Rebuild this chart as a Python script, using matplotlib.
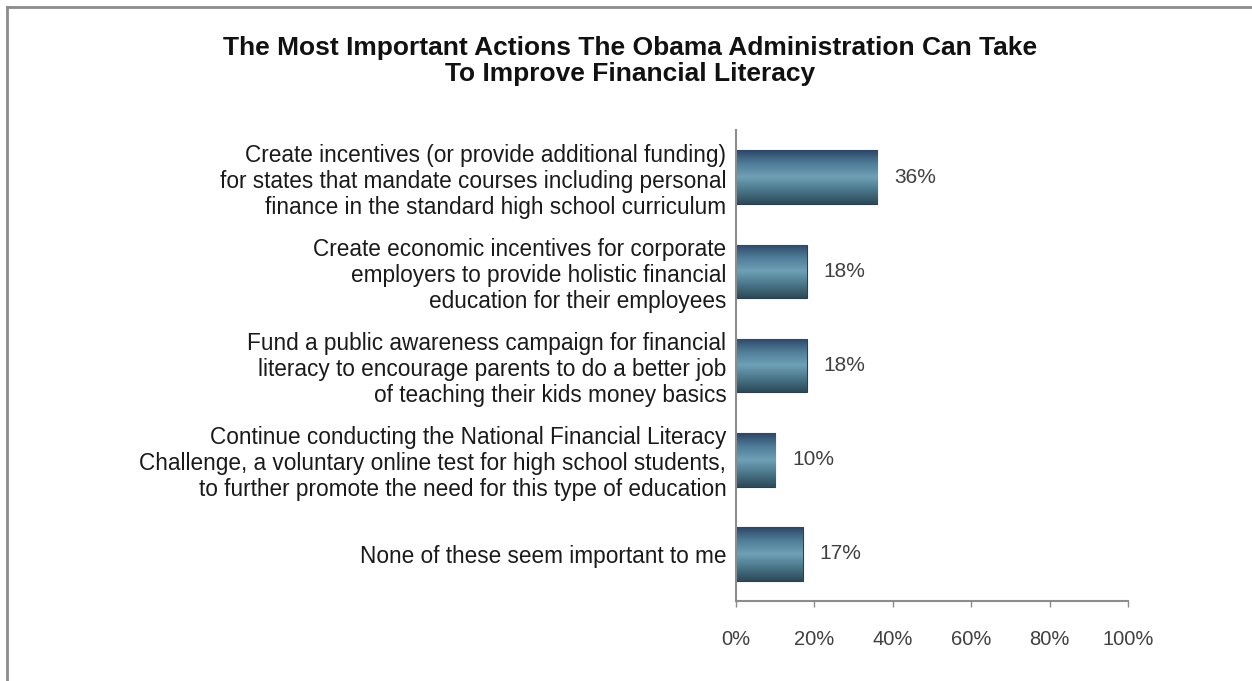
import matplotlib.pyplot as plt
import numpy as np
from matplotlib.colors import LinearSegmentedColormap
from matplotlib.lines import Line2D

plt.rcParams.update({
    "font.family": ["Liberation Sans", "DejaVu Sans"],
})

# ── data ───────────────────────────────────────────────────────────────────
actions = [
    "Create incentives (or provide additional funding)\n"
    "for states that mandate courses including personal\n"
    "finance in the standard high school curriculum",
    "Create economic incentives for corporate\n"
    "employers to provide holistic financial\n"
    "education for their employees",
    "Fund a public awareness campaign for financial\n"
    "literacy to encourage parents to do a better job\n"
    "of teaching their kids money basics",
    "Continue conducting the National Financial Literacy\n"
    "Challenge, a voluntary online test for high school students,\n"
    "to further promote the need for this type of education",
    "None of these seem important to me",
]
shares = [36, 18, 18, 10, 17]
xticks = [0, 20, 40, 60, 80, 100]
title = ("The Most Important Actions The Obama Administration Can Take\n"
         "To Improve Financial Literacy")

# ── figure ─────────────────────────────────────────────────────────────────
fig = plt.figure(figsize=(12.52, 6.81), dpi=100)
ax = fig.add_axes([0.5879, 0.1175, 0.3131, 0.6915])

# frame lines along top and left of the canvas
fig.add_artist(Line2D([7 / 1252, 1], [1 - 7 / 681] * 2, transform=fig.transFigure,
                      color="#8c8c8c", lw=2))
fig.add_artist(Line2D([7 / 1252] * 2, [0, 1 - 7 / 681], transform=fig.transFigure,
                      color="#8c8c8c", lw=2))

fig.text(0.503, 0.91, title, ha="center", va="center", fontsize=19,
         fontweight="bold", color="#111111", linespacing=1.1)

# ── bars with vertical shading ─────────────────────────────────────────────
y = np.arange(len(shares))
bars = ax.barh(y, shares, height=0.57, color="#3d6680",
               edgecolor="#2a3f4f", linewidth=0.8, zorder=2)

shade = LinearSegmentedColormap.from_list(
    "bar_shade", ["#2b4667", "#4f7d98", "#6ea0b6", "#4a7689", "#2c4957"])
grad = np.linspace(0, 1, 256).reshape(-1, 1)
for b in bars:
    x0, y0 = b.get_x(), b.get_y()
    w, h = b.get_width(), b.get_height()
    im = ax.imshow(grad, cmap=shade, aspect="auto", origin="upper",
                   extent=(x0, x0 + w, y0 + h, y0), zorder=2.5)
    im.set_clip_path(b)

for yi, v in zip(y, shares):
    ax.annotate(f"{v}%", (v, yi), xytext=(12, 0), textcoords="offset points",
                ha="left", va="center", fontsize=15, color="#404040")

# ── axes styling ───────────────────────────────────────────────────────────
ax.set_xlim(0, 100)
ax.set_ylim(len(shares) - 0.5, -0.5)
ax.set_xticks(xticks)
ax.set_xticklabels([f"{t}%" for t in xticks])
ax.set_yticks(y)
ax.set_yticklabels(actions, fontsize=16.3, color="#1a1a1a", linespacing=1.17)

for side in ("top", "right"):
    ax.spines[side].set_visible(False)
for side in ("left", "bottom"):
    ax.spines[side].set_color("#8c8c8c")
    ax.spines[side].set_linewidth(1.5)

ax.tick_params(axis="y", length=0, pad=7)
ax.tick_params(axis="x", length=4, width=1, color="#8c8c8c", pad=17,
               labelsize=14.5, labelcolor="#404040")

fig.savefig("out.png", dpi=100)
